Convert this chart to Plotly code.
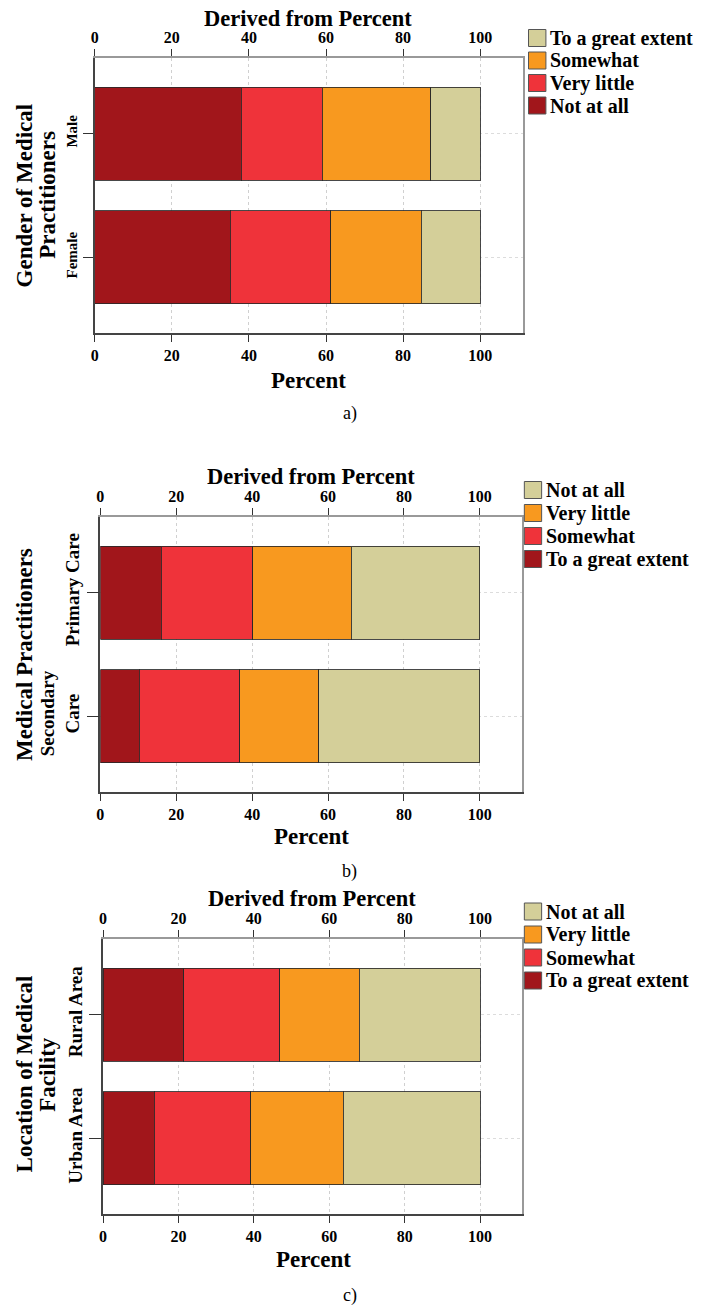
import plotly.graph_objects as go

W, H = 705, 1305

# ---------------- data ----------------
# a) Gender of Medical Practitioners
gender_cats = ["Male", "Female"]
gender_not_at_all = [38.0, 35.2]
gender_very_little = [21.0, 26.0]
gender_somewhat = [28.2, 23.5]
gender_great_extent = [12.8, 15.3]

# b) Medical Practitioners
care_cats = ["Primary Care", "Secondary Care"]
care_ticktext = ["Primary Care", "Secondary<br>Care"]
care_great_extent = [16.0, 10.2]
care_somewhat = [24.1, 26.6]
care_very_little = [26.0, 20.8]
care_not_at_all = [33.9, 42.4]

# c) Location of Medical Facility
loc_cats = ["Rural Area", "Urban Area"]
loc_great_extent = [21.4, 13.6]
loc_somewhat = [25.5, 25.6]
loc_very_little = [21.1, 24.5]
loc_not_at_all = [32.0, 36.3]

x_ticks = [0, 20, 40, 60, 80, 100]

# stack colours, left to right
C1, C2, C3, C4 = "#A1161B", "#EF333A", "#F8991F", "#D4CF99"
FONT = "Liberation Serif"


def fx(px):
    return px / W


def fy(py):
    return 1 - py / H


panels = [
    dict(cats=gender_cats, ticktext=gender_cats,
         series=[("Not at all", gender_not_at_all, C1),
                 ("Very little", gender_very_little, C2),
                 ("Somewhat", gender_somewhat, C3),
                 ("To a great extent", gender_great_extent, C4)],
         ytitle=[("Gender of Medical", 20.5), ("Practitioners", 43)], ytitle_y=195,
         tickfont=15, yticklen=10,
         xdom=(91.3, 521.5), ydom=(58, 333),
         title_xy=(306, 17.5), pct_xy=(306, 380), cap=("a)", 347.5, 414),
         leg_x=(527.5, 545, 547), leg_y=[38, 60.5, 83, 105.5]),
    dict(cats=care_cats, ticktext=care_ticktext,
         series=[("To a great extent", care_great_extent, C1),
                 ("Somewhat", care_somewhat, C2),
                 ("Very little", care_very_little, C3),
                 ("Not at all", care_not_at_all, C4)],
         ytitle=[("Medical Practitioners", 20)], ytitle_y=654,
         tickfont=19, yticklen=12,
         xdom=(96.9, 520.5), ydom=(517, 792),
         title_xy=(308.5, 475.5), pct_xy=(309, 837), cap=("b)", 347.5, 872),
         leg_x=(523.3, 540.7, 543.3), leg_y=[490, 513, 536, 559]),
    dict(cats=loc_cats, ticktext=loc_cats,
         series=[("To a great extent", loc_great_extent, C1),
                 ("Somewhat", loc_somewhat, C2),
                 ("Very little", loc_very_little, C3),
                 ("Not at all", loc_not_at_all, C4)],
         ytitle=[("Location of Medical", 20.5), ("Facility", 43)], ytitle_y=1074,
         tickfont=19, yticklen=12,
         xdom=(99.6, 520.5), ydom=(939, 1214),
         title_xy=(310, 897.5), pct_xy=(311, 1259), cap=("c)", 347.5, 1295),
         leg_x=(523.3, 540.7, 543.3), leg_y=[911.5, 934.5, 957.5, 980.5]),
]

fig = go.Figure()
annotations = []
shapes = []
layout = {}


def add_text(text, xy, size, bold=True, angle=0, xanchor="center", height=None):
    ann = dict(
        text=text, x=fx(xy[0]), y=fy(xy[1]), xref="paper", yref="paper",
        xanchor=xanchor, yanchor="middle", showarrow=False, textangle=angle,
        font=dict(family=FONT, size=size, color="black",
                  weight="bold" if bold else "normal"),
    )
    if height is not None:
        ann["height"] = height
        ann["valign"] = "middle"
    annotations.append(ann)


for k, p in enumerate(panels, start=1):
    xb = "x" if k == 1 else f"x{k}"
    yb = "y" if k == 1 else f"y{k}"
    xtop = f"x{k + 3}"
    yright = f"y{k + 3}"

    for name, vals, col in p["series"]:
        fig.add_trace(go.Bar(
            y=p["cats"], x=vals, name=name, orientation="h",
            marker=dict(color=col, line=dict(color="rgba(40,40,40,0.85)", width=1)),
            width=0.75, xaxis=xb, yaxis=yb, showlegend=False,
            hovertemplate="%{y}: %{x}%<extra>" + name + "</extra>",
        ))
    # empty helper traces so that the top axis and the right frame are drawn
    fig.add_trace(go.Scatter(x=[], y=[], xaxis=xtop, yaxis=yb,
                             showlegend=False, hoverinfo="skip"))
    fig.add_trace(go.Scatter(x=[], y=[], xaxis=xb, yaxis=yright,
                             showlegend=False, hoverinfo="skip"))

    xdom = [fx(p["xdom"][0]), fx(p["xdom"][1])]
    ydom = [fy(p["ydom"][1]), fy(p["ydom"][0])]
    xkey = "xaxis" if k == 1 else f"xaxis{k}"
    ykey = "yaxis" if k == 1 else f"yaxis{k}"

    tickfont_x = dict(family=FONT, size=16, color="black", weight="bold")
    layout[xkey] = dict(
        domain=xdom, anchor=yb, range=[0, 111], tickvals=x_ticks,
        showgrid=True, gridcolor="#d0d0d0", griddash="dot", gridwidth=1,
        zeroline=False, showline=True, linecolor="#444", linewidth=1.5,
        ticks="outside", ticklen=7, tickcolor="#333", tickwidth=1,
        tickfont=tickfont_x,
    )
    layout[f"xaxis{k + 3}"] = dict(
        overlaying=xb, anchor=yb, side="top", range=[0, 111], tickvals=x_ticks,
        showgrid=False, zeroline=False, showline=True, linecolor="#999", linewidth=1.5,
        ticks="outside", ticklen=7, tickcolor="#333", tickwidth=1,
        tickfont=tickfont_x,
    )
    layout[ykey] = dict(
        domain=ydom, anchor=xb, type="category",
        categoryorder="array", categoryarray=p["cats"][::-1],
        tickvals=p["cats"], ticktext=p["ticktext"],
        range=[-0.61, 1.61], tickangle=-90,
        showgrid=True, gridcolor="#dcdcdc", griddash="dot", gridwidth=1,
        zeroline=False, showline=True, linecolor="#444", linewidth=1.5,
        ticks="outside", ticklen=p["yticklen"], tickcolor="#333", tickwidth=1,
        tickfont=dict(family=FONT, size=p["tickfont"], color="black", weight="bold"),
    )
    layout[f"yaxis{k + 3}"] = dict(
        overlaying=yb, anchor=xb, side="right", range=[0, 1],
        showgrid=False, zeroline=False, showline=True, linecolor="#999", linewidth=1.5,
        showticklabels=False, ticks="",
    )

    # legend (drawn in reverse stacking order, as in the reference)
    x0, x1, xt = p["leg_x"]
    for (name, _, col), cy in zip(p["series"][::-1], p["leg_y"]):
        shapes.append(dict(
            type="rect", xref="paper", yref="paper",
            x0=fx(x0), x1=fx(x1), y0=fy(cy + 8.5), y1=fy(cy - 8.5),
            fillcolor=col, line=dict(color="#555", width=1),
        ))
        add_text(name, (xt, cy), 20, xanchor="left")

    add_text("Derived from Percent", p["title_xy"], 22.5, height=20)
    add_text("Percent", p["pct_xy"], 23)
    add_text(p["cap"][0], (p["cap"][1], p["cap"][2]), 18, bold=False)
    for line, lx in p["ytitle"]:
        add_text(line, (lx, p["ytitle_y"]), 23, angle=-90)

fig.update_layout(
    width=W, height=H, margin=dict(l=0, r=0, t=0, b=0),
    paper_bgcolor="white", plot_bgcolor="white",
    barmode="stack", showlegend=False, annotations=annotations, shapes=shapes,
    font=dict(family=FONT, color="black"),
    **layout,
)

# remove the browser's default 8 px body margin so the figure fills the window
fig.write_html("out.html", config={"displayModeBar": False},
               post_script="document.body.style.margin='0px';")
